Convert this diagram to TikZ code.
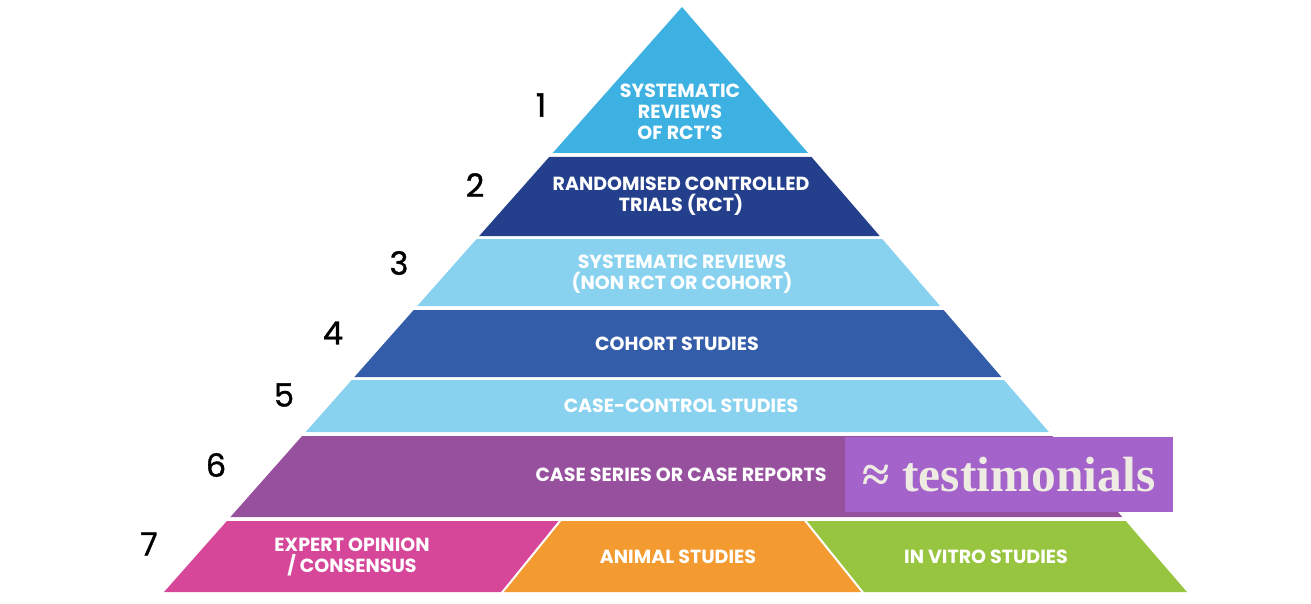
\documentclass[tikz,border=0pt]{standalone}
\usepackage{fontspec}
\setmainfont{Liberation Serif}
\newfontfamily\labelfont{Poppins}
\newfontfamily\rankfont{Poppins}[FakeBold=1.2]
\usetikzlibrary{positioning}

\definecolor{tierA}{HTML}{3DB1E1}
\definecolor{tierB}{HTML}{243F8C}
\definecolor{tierC}{HTML}{89D2EF}
\definecolor{tierD}{HTML}{335CA9}
\definecolor{tierE}{HTML}{96509E}
\definecolor{expert}{HTML}{D6479A}
\definecolor{animal}{HTML}{F39B30}
\definecolor{vitro}{HTML}{98C53F}
\definecolor{testibox}{HTML}{A462CB}
\definecolor{testitext}{HTML}{EEEBE3}

\tikzset{
  tier/.style={text=white, font=\labelfont\bfseries\fontsize{19}{21}\selectfont, align=center, inner sep=0pt},
  rank/.style={text=black, font=\rankfont\fontsize{32}{32}\selectfont, inner sep=0pt}
}

\begin{document}
\begin{tikzpicture}[x=1pt,y=-1pt]
            \useasboundingbox (0,0) rectangle (1311,604);

            % the seven tiers
            \fill[tierA] (682,7) -- (808.0,153) -- (552.7,153) -- cycle;
            \fill[tierB] (549.2,157) -- (811.5,157) -- (879.7,236) -- (479.2,236) -- cycle;
            \fill[tierC] (476.6,239) -- (882.3,239) -- (940.1,306) -- (417.2,306) -- cycle;
            \fill[tierD] (413.7,310) -- (943.6,310) -- (1001.4,377) -- (354.4,377) -- cycle;
            \fill[tierC] (351.7,380) -- (1004.0,380) -- (1048.9,432) -- (305.7,432) -- cycle;
            \fill[tierE] (302.1,436) -- (1052.3,436) -- (1122.3,517) -- (230.4,517) -- cycle;

            % bottom tier, split in three
            \fill[expert] (226.9,521) -- (558.5,521) -- (501,592) -- (164,592) -- cycle;
            \fill[animal] (561.5,521) -- (804,521) -- (861,592) -- (504,592) -- cycle;
            \fill[vitro] (807,521) -- (1125.7,521) -- (1187,592) -- (864,592) -- cycle;

            % tier labels
            \node[tier] (sysrct) at (680,112) {SYSTEMATIC\\REVIEWS\\OF RCT’S};
            \node[tier] (rct) at (681,196.5) {RANDOMISED CONTROLLED\\TRIALS (RCT)};
            \node[tier] (sysnon) at (682,274.5) {SYSTEMATIC REVIEWS\\(NON RCT OR COHORT)};
            \node[tier] (cohort) at (677,344) {COHORT STUDIES};
            \node[tier] (casecon) at (681,406) {CASE-CONTROL STUDIES};
            \node[tier] (caseser) at (681,475) {CASE SERIES OR CASE REPORTS};
            \node[tier] (expop) at (352,557.5) {EXPERT OPINION\\/ CONSENSUS};
            \node[tier] (animst) at (678,557) {ANIMAL STUDIES};
            \node[tier] (vitrost) at (986,557) {IN VITRO STUDIES};

            % rank numbers
            \node[rank] (r1) at (541,105) {1};
            \node[rank] (r2) at (475,185) {2};
            \node[rank] (r3) at (399,263) {3};
            \node[rank] (r4) at (333,333) {4};
            \node[rank] (r5) at (284,395) {5};
            \node[rank] (r6) at (216,465) {6};
            \node[rank] (r7) at (149,544) {7};

            % overlay box
            \node[fill=testibox, minimum width=328pt, minimum height=75pt, inner sep=0pt,
                  text=testitext, font=\bfseries\fontsize{49.5}{49.5}\selectfont]
                  (testi) at (1009,474.5) {≈ testimonials};
        \end{tikzpicture}
\end{document}
